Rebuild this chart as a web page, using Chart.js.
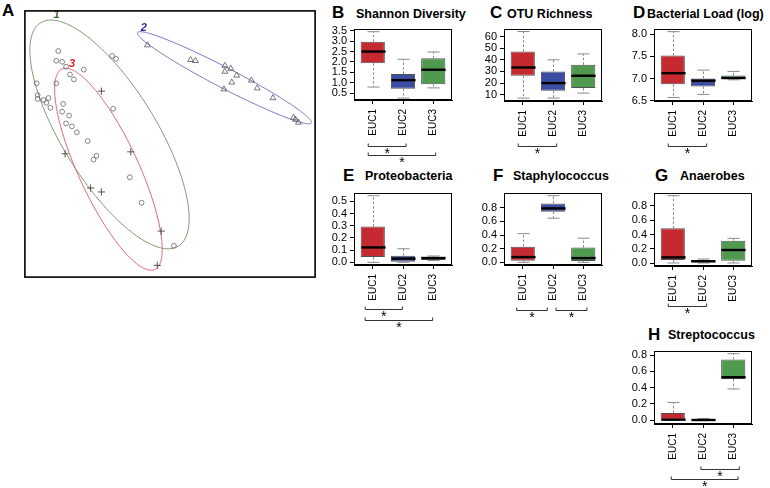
<!DOCTYPE html>
<html><head><meta charset="utf-8">
<script src="https://cdn.jsdelivr.net/npm/chart.js@4.4.1/dist/chart.umd.min.js"></script>
<style>
html,body{margin:0;padding:0;background:#fff;width:770px;height:488px;overflow:hidden;position:relative;font-family:"Liberation Sans",Arial,Helvetica,sans-serif;}
canvas{position:absolute;}
.lt{position:absolute;font-weight:bold;font-size:17px;line-height:17px;color:#000;white-space:nowrap;}
.tt{position:absolute;font-weight:bold;font-size:12.5px;line-height:13px;color:#000;white-space:nowrap;}
</style></head><body>
<div class="lt" style="left:2px;top:2.3px">A</div>
<div class="lt" style="left:332px;top:3.9px">B</div><div class="tt" style="left:356px;top:7.5px">Shannon Diversity</div>
<div class="lt" style="left:490px;top:3.9px">C</div><div class="tt" style="left:507px;top:7.5px">OTU Richness</div>
<div class="lt" style="left:633px;top:3.9px">D</div><div class="tt" style="left:647px;top:7.5px">Bacterial Load (log)</div>
<div class="lt" style="left:343px;top:166.6px">E</div><div class="tt" style="left:365px;top:170.2px">Proteobacteria</div>
<div class="lt" style="left:493px;top:166.6px">F</div><div class="tt" style="left:513px;top:170.2px">Staphylococcus</div>
<div class="lt" style="left:655px;top:166.6px">G</div><div class="tt" style="left:680px;top:170.2px">Anaerobes</div>
<div class="lt" style="left:648px;top:325.6px">H</div><div class="tt" style="left:668px;top:329.2px">Streptococcus</div>
<script>
// ---------- DATA ----------
const groups = ['EUC1', 'EUC2', 'EUC3'];
// box statistics per group: [min, Q1, median, Q3, max]
const shannonDiversity = [[0.80, 1.94, 2.50, 2.97, 3.45], [0.27, 0.72, 1.13, 1.42, 2.13], [0.76, 0.94, 1.63, 2.18, 2.48]];
const otuRichness      = [[7.1, 26.3, 33.4, 47.1, 64.3], [7.1, 13.4, 20.0, 30.0, 40.0], [11.4, 15.7, 26.3, 35.7, 45.1]];
const bacterialLoad    = [[6.57, 6.87, 7.12, 7.52, 8.06], [6.64, 6.82, 6.95, 7.00, 7.19], [6.97, 6.99, 7.01, 7.07, 7.16]];
const proteobacteria   = [[0.0, 0.043, 0.122, 0.293, 0.546], [0.0, 0.005, 0.030, 0.054, 0.111], [0.014, 0.019, 0.035, 0.046, 0.052]];
const staphylococcus   = [[0.0, 0.024, 0.077, 0.230, 0.420], [0.647, 0.742, 0.790, 0.862, 0.977], [0.0, 0.019, 0.062, 0.216, 0.354]];
const anaerobes        = [[0.005, 0.046, 0.083, 0.486, 0.940], [0.005, 0.014, 0.028, 0.046, 0.060], [0.005, 0.037, 0.185, 0.315, 0.347]];
const streptococcus    = [[0.0, 0.0, 0.008, 0.091, 0.219], [0.0, 0.0, 0.004, 0.012, 0.021], [0.384, 0.507, 0.528, 0.746, 0.816]];

const shannonTicks = [0.5, 1.0, 1.5, 2.0, 2.5, 3.0, 3.5];
const otuTicks = [10, 20, 30, 40, 50, 60];
const loadTicks = [6.5, 7.0, 7.5, 8.0];
const proteoTicks = [0.0, 0.1, 0.2, 0.3, 0.4, 0.5];
const fractionTicks = [0.0, 0.2, 0.4, 0.6, 0.8];

// ordination scores (panel A), [axis1, axis2]
const circleSamples = [[-1.14,0.95],[-1.16,0.85],[-1.10,0.84],[-1.06,0.79],[-0.88,0.76],[-1.02,0.71],[-0.98,0.66],[-1.16,0.62],[-1.36,0.62],[-1.35,0.50],[-1.35,0.46],[-1.29,0.45],[-1.24,0.47],[-1.26,0.42],[-1.22,0.37],[-1.09,0.41],[-1.10,0.33],[-1.03,0.29],[-1.06,0.21],[-1.00,0.18],[-0.95,0.12],[-0.84,0.03],[-0.59,0.90],[-0.55,0.87],[-0.58,0.36],[-0.75,-0.12],[-0.78,-0.16],[-0.41,-0.34],[-0.29,-0.60],[0.04,-1.04]];
const crossSamples = [[-0.70,0.54],[-1.07,-0.10],[-0.40,-0.08],[-0.81,-0.45],[-0.70,-0.49],[-0.09,-0.89],[-0.13,-1.24]];
const triangleSamples = [[-0.23,1.01],[0.21,0.86],[0.26,0.85],[0.56,0.80],[0.62,0.77],[0.56,0.74],[0.68,0.70],[0.63,0.63],[0.83,0.65],[0.89,0.57],[0.55,0.56],[1.05,0.47],[1.26,0.27],[1.28,0.25],[1.31,0.22]];
// cluster ellipses: label, centre x, centre y, semi-axis a, semi-axis b, angle (deg)
const ellipseLabels = ['1', '2', '3'];
const ellipseCentreX = [-0.617, 0.555, -0.628];
const ellipseCentreY = [0.098, 0.677, -0.258];
const ellipseSemiA = [1.34, 1.00, 1.128];
const ellipseSemiB = [0.48, 0.104, 0.306];
const ellipseAngle = [-58.4, -27.5, -65.2];
const ellipseLabelX = [-1.157, -0.267, -1.0];
const ellipseLabelY = [1.317, 1.19, 0.813];

// ---------- STYLE ----------
const FONT = '"Liberation Sans", Arial, Helvetica, sans-serif';
const boxColors = ['#c42a30', '#3b4da3', '#4f9a4f'];
const ellipseColors = ['#7d9b6e', '#7878c2', '#e2667a'];
const ellipseLabelColors = ['#3e6b35', '#2e2e99', '#e31e24'];

function makeCanvas(left, top, w, h) {
  const cv = document.createElement('canvas');
  cv.width = w; cv.height = h;
  cv.style.left = left + 'px'; cv.style.top = top + 'px';
  cv.style.width = w + 'px'; cv.style.height = h + 'px';
  document.body.appendChild(cv);
  return cv;
}

// ---------- PANEL A ----------
(function () {
  const cv = makeCanvas(20, 6, 300, 276);
  const ellPlugin = {
    id: 'ellipses',
    beforeDatasetsDraw(chart) {
      const ctx = chart.ctx, xs = chart.scales.x, ys = chart.scales.y;
      ctx.save();
      ellipseLabels.forEach((lab, k) => {
        const phi = ellipseAngle[k] * Math.PI / 180;
        ctx.strokeStyle = ellipseColors[k]; ctx.lineWidth = 1;
        ctx.beginPath();
        for (let s = 0; s <= 180; s++) {
          const t = s / 180 * 2 * Math.PI;
          const dx = ellipseSemiA[k] * Math.cos(t), dy = ellipseSemiB[k] * Math.sin(t);
          const vx = ellipseCentreX[k] + dx * Math.cos(phi) - dy * Math.sin(phi);
          const vy = ellipseCentreY[k] + dx * Math.sin(phi) + dy * Math.cos(phi);
          const px = xs.getPixelForValue(vx), py = ys.getPixelForValue(vy);
          if (s === 0) ctx.moveTo(px, py); else ctx.lineTo(px, py);
        }
        ctx.closePath(); ctx.stroke();
        ctx.fillStyle = ellipseLabelColors[k];
        ctx.font = 'italic bold 11px ' + FONT;
        ctx.textAlign = 'center'; ctx.textBaseline = 'middle';
        ctx.fillText(lab, xs.getPixelForValue(ellipseLabelX[k]), ys.getPixelForValue(ellipseLabelY[k]));
      });
      ctx.restore();
    },
    afterDraw(chart) {
      const a = chart.chartArea, ctx = chart.ctx;
      ctx.save(); ctx.strokeStyle = '#000'; ctx.lineWidth = 1.6;
      ctx.strokeRect(a.left, a.top, a.right - a.left, a.bottom - a.top);
      ctx.restore();
    }
  };
  const toPts = arr => arr.map(p => ({ x: p[0], y: p[1] }));
  new Chart(cv, {
    type: 'scatter',
    data: { datasets: [
      { data: toPts(circleSamples), pointStyle: 'circle', radius: 2.4, borderColor: '#666', borderWidth: 0.8, backgroundColor: 'rgba(0,0,0,0)' },
      { data: toPts(crossSamples), pointStyle: 'cross', radius: 3.6, borderColor: '#444', borderWidth: 0.9, backgroundColor: 'rgba(0,0,0,0)' },
      { data: toPts(triangleSamples), pointStyle: 'triangle', radius: 3.4, borderColor: '#555', borderWidth: 0.8, backgroundColor: 'rgba(0,0,0,0)' }
    ] },
    options: {
      responsive: false, animation: false, devicePixelRatio: 1, events: [],
      layout: { padding: 2 },
      plugins: { legend: { display: false }, tooltip: { enabled: false } },
      scales: {
        x: { type: 'linear', display: false, min: -1.48, max: 1.48 },
        y: { type: 'linear', display: false, min: -1.36, max: 1.36 }
      }
    },
    plugins: [ellPlugin]
  });
})();

// ---------- BOX PANELS ----------
function boxPanel(stats, ticks, fmt, yMin, yMax, plot, brackets) {
  const padL = 34, padT = 8, padR = 8, below = 72, xAxisH = 40;
  const W = plot.r - plot.l + padL + padR, H = plot.b - plot.t + padT + below;
  const cv = makeCanvas(plot.l - padL, plot.t - padT, W, H);
  const extras = {
    id: 'boxExtras',
    afterDatasetsDraw(chart) {
      const ctx = chart.ctx, xs = chart.scales.x, ys = chart.scales.y;
      const meta = chart.getDatasetMeta(0);
      ctx.save();
      stats.forEach((s, i) => {
        const [lo, q1, med, q3, hi] = s;
        const px = Math.round(xs.getPixelForValue(i + 1)) + 0.5;
        const bw = meta.data[i].width, half = bw / 2, cap = bw / 4;
        const yLo = ys.getPixelForValue(lo), yQ1 = ys.getPixelForValue(q1), yMed = ys.getPixelForValue(med);
        const yQ3 = ys.getPixelForValue(q3), yHi = ys.getPixelForValue(hi);
        ctx.strokeStyle = '#8a8a8a'; ctx.lineWidth = 1; ctx.setLineDash([2.5, 2]);
        ctx.beginPath();
        ctx.moveTo(px, yQ3); ctx.lineTo(px, yHi);
        ctx.moveTo(px, yQ1); ctx.lineTo(px, yLo);
        ctx.stroke();
        ctx.setLineDash([]);
        ctx.beginPath();
        ctx.moveTo(px - cap, yHi); ctx.lineTo(px + cap, yHi);
        ctx.moveTo(px - cap, yLo); ctx.lineTo(px + cap, yLo);
        ctx.stroke();
        ctx.strokeStyle = '#000'; ctx.lineWidth = 2.4;
        ctx.beginPath(); ctx.moveTo(px - half, yMed); ctx.lineTo(px + half, yMed); ctx.stroke();
      });
      ctx.restore();
    },
    afterDraw(chart) {
      const ctx = chart.ctx, a = chart.chartArea, xs = chart.scales.x;
      ctx.save();
      ctx.strokeStyle = '#000'; ctx.lineWidth = 1;
      ctx.strokeRect(Math.round(a.left) + 0.5, Math.round(a.top) + 0.5, Math.round(a.right - a.left) - 1, Math.round(a.bottom - a.top) - 1);
      ctx.strokeStyle = '#333'; ctx.fillStyle = '#000';
      ctx.font = '14px ' + FONT; ctx.textAlign = 'center'; ctx.textBaseline = 'top';
      brackets.forEach(br => {
        const x1 = xs.getPixelForValue(br.from), x2 = xs.getPixelForValue(br.to);
        const y = Math.round(a.bottom + br.dy) + 0.5;
        ctx.beginPath(); ctx.moveTo(x1, y - 3); ctx.lineTo(x1, y); ctx.lineTo(x2, y); ctx.lineTo(x2, y - 3); ctx.stroke();
        ctx.fillText('*', (x1 + x2) / 2, y + 0.5);
      });
      ctx.restore();
    }
  };
  new Chart(cv, {
    type: 'bar',
    data: { datasets: [{
      data: stats.map((s, i) => ({ x: i + 1, y: [s[1], s[3]] })),
      backgroundColor: boxColors, borderColor: '#505050', borderWidth: 1, borderSkipped: false,
      barPercentage: 0.8, categoryPercentage: 1
    }] },
    options: {
      responsive: false, animation: false, devicePixelRatio: 1, events: [],
      layout: { padding: { left: 0, top: padT, right: padR, bottom: below - xAxisH } },
      plugins: { legend: { display: false }, tooltip: { enabled: false } },
      scales: {
        x: {
          type: 'linear', min: 0.38, max: 3.62, offset: false,
          afterBuildTicks(sc) { sc.ticks = groups.map((g, i) => ({ value: i + 1 })); },
          afterFit(sc) { sc.height = xAxisH; sc.paddingLeft = 0; sc.paddingRight = 0; sc.paddingTop = 0; sc.paddingBottom = 0; },
          ticks: { autoSkip: false, minRotation: 90, maxRotation: 90, padding: 5, color: '#000', font: { family: FONT, size: 10 },
                   callback: v => groups[Math.round(v) - 1] },
          grid: { drawOnChartArea: false, tickLength: 4, color: '#000', offset: false },
          border: { display: true, color: '#000' }
        },
        y: {
          type: 'linear', min: yMin, max: yMax,
          afterBuildTicks(sc) { sc.ticks = ticks.map(v => ({ value: v })); },
          afterFit(sc) { sc.width = padL; sc.paddingLeft = 0; sc.paddingRight = 0; sc.paddingTop = 0; sc.paddingBottom = 0; },
          ticks: { autoSkip: false, padding: 3, color: '#000', font: { family: FONT, size: 11 }, callback: v => fmt(v) },
          grid: { drawOnChartArea: false, tickLength: 4, color: '#000' },
          border: { display: true, color: '#000' }
        }
      }
    },
    plugins: [extras]
  });
}

const f1 = v => v.toFixed(1), f0 = v => String(Math.round(v));
boxPanel(shannonDiversity, shannonTicks, f1, 0.18, 3.58, { l: 354, t: 29, r: 452, b: 100 },
  [{ from: 0.85, to: 2.1, dy: 45.5 }, { from: 0.85, to: 3.08, dy: 54.5 }]);
boxPanel(otuRichness, otuTicks, f0, 4.6, 66.5, { l: 504, t: 29, r: 602, b: 101 },
  [{ from: 0.85, to: 2.12, dy: 44.5 }]);
boxPanel(bacterialLoad, loadTicks, f1, 6.49, 8.12, { l: 654, t: 29, r: 752, b: 101 },
  [{ from: 0.85, to: 2.12, dy: 44.5 }]);
boxPanel(proteobacteria, proteoTicks, f1, -0.022, 0.568, { l: 354, t: 193, r: 452, b: 265 },
  [{ from: 0.75, to: 1.98, dy: 44 }, { from: 0.75, to: 2.98, dy: 54.5 }]);
boxPanel(staphylococcus, fractionTicks, f1, -0.039, 1.016, { l: 504, t: 193, r: 602, b: 265 },
  [{ from: 0.8, to: 1.81, dy: 45 }, { from: 2.1, to: 3.12, dy: 45 }]);
boxPanel(anaerobes, fractionTicks, f1, -0.037, 0.977, { l: 654, t: 193, r: 752, b: 266 },
  [{ from: 0.85, to: 2.12, dy: 40 }]);
boxPanel(streptococcus, fractionTicks, f1, -0.045, 0.849, { l: 654, t: 351, r: 752, b: 424 },
  [{ from: 1.93, to: 3.2, dy: 45 }, { from: 0.95, to: 3.16, dy: 55 }]);
</script>
</body></html>
